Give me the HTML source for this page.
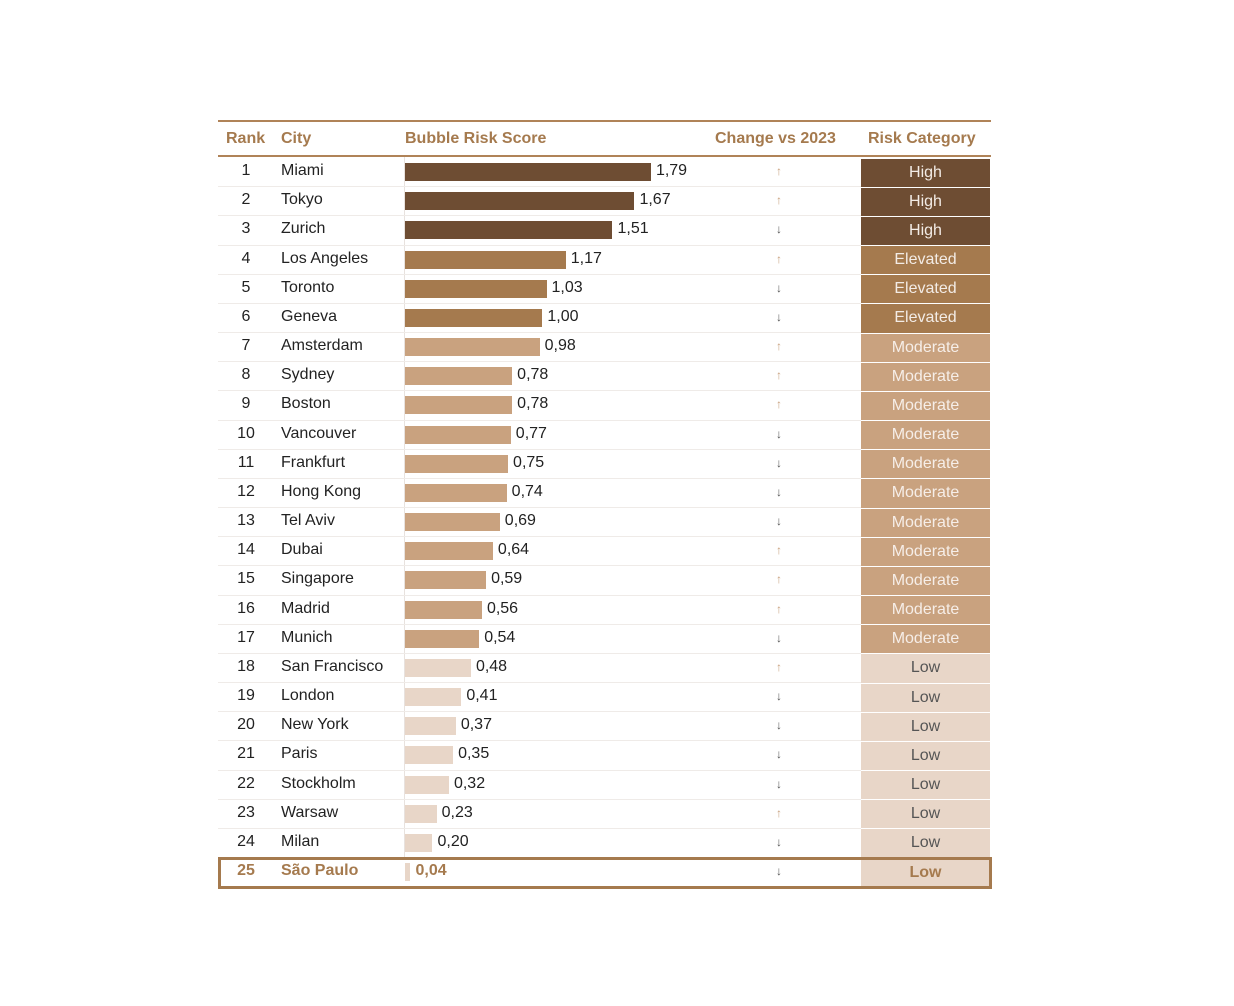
<!DOCTYPE html>
<html><head><meta charset="utf-8"><style>
body{margin:0;background:#fff;width:1234px;height:1006px;position:relative;overflow:hidden;font-family:"Liberation Sans",sans-serif}
#t{position:absolute;left:0;top:0}
.a{position:absolute}
.hd{position:absolute;top:130px;font-weight:bold;font-size:16px;color:#a57a4e}
</style></head><body>
<div id="t"></div>
<script>
const cities=["Miami","Tokyo","Zurich","Los Angeles","Toronto","Geneva","Amsterdam","Sydney","Boston","Vancouver","Frankfurt","Hong Kong","Tel Aviv","Dubai","Singapore","Madrid","Munich","San Francisco","London","New York","Paris","Stockholm","Warsaw","Milan","São Paulo"];
const scores=[1.79,1.67,1.51,1.17,1.03,1.00,0.98,0.78,0.78,0.77,0.75,0.74,0.69,0.64,0.59,0.56,0.54,0.48,0.41,0.37,0.35,0.32,0.23,0.20,0.04];
const changes=["up","up","down","up","down","down","up","up","up","down","down","down","down","up","up","up","down","up","down","down","down","down","up","down","down"];
const categories=["High","High","High","Elevated","Elevated","Elevated","Moderate","Moderate","Moderate","Moderate","Moderate","Moderate","Moderate","Moderate","Moderate","Moderate","Moderate","Low","Low","Low","Low","Low","Low","Low","Low"];
const headers=["Rank","City","Bubble Risk Score","Change vs 2023","Risk Category"];
const catColor={High:"#6e4d33",Elevated:"#a57a4e",Moderate:"#c9a27f",Low:"#e8d6c8"};
const catText={High:"#f3ece6",Elevated:"#f3ece6",Moderate:"#f6eee8",Low:"#555"};
const T=document.getElementById('t');
const x0=405,scale=137.4,rowTop=158,rowH=29.17;
const xS=v=>v*scale;
const yR=i=>rowTop+i*rowH;
function mk(css,txt){const d=document.createElement('div');d.className='a';d.style.cssText=css;if(txt!==undefined)d.textContent=txt;T.appendChild(d);return d;}
let l=mk('left:218px;top:120px;width:773px;height:2px;background:#b08358');


l=mk('left:218px;top:155px;width:773px;height:2px;background:#b08358');


const hx=[226,281,405,715,868];
headers.forEach((h,i)=>{const d=mk('top:130px;left:'+hx[i]+'px;font-weight:bold;font-size:16px;color:#a57a4e;white-space:nowrap',h);

});
l=mk('left:404px;top:157px;width:1px;height:700px;background:#e8e2de');


cities.forEach((c,i)=>{
 const y=yR(i),last=i===cities.length-1,cat=categories[i];
 const tc=last?'#a57a4e':'#222',fw=last?'bold':'normal';
 if(!last){const s=mk('left:218px;top:'+(y+rowH-1)+'px;width:643px;height:1px;background:#efebe8');
 
 }
 let d=mk('left:226px;width:40px;text-align:center;top:'+(y+4)+'px;font-size:16px;color:'+tc+';font-weight:'+fw,String(i+1));
 
 
 d=mk('left:281px;top:'+(y+4)+'px;font-size:16px;color:'+tc+';font-weight:'+fw+';white-space:nowrap',c);
 
 
 const w=xS(scores[i]);
 d=mk('left:'+x0+'px;top:'+(y+5)+'px;width:'+w+'px;height:18px;background:'+catColor[cat]);
 
 
 d=mk('left:'+(x0+w+5)+'px;top:'+(y+4)+'px;font-size:16px;color:'+tc+';font-weight:'+fw,scores[i].toFixed(2).replace('.',','));
 
 
 const up=changes[i]==='up';
 d=mk('left:772px;width:14px;text-align:center;top:'+(y+6)+'px;font-size:12px;color:'+(up?'#c9a27f':'#555'),up?'🡅':'🡇');
 d.textContent=up?'↑':'↓';d.style.fontWeight='bold';
 
 
 d=mk('left:861px;top:'+(y+0.5)+'px;width:129px;height:'+(rowH-1)+'px;background:'+catColor[cat]+';color:'+(last?'#a57a4e':catText[cat])+';font-weight:'+fw+';font-size:16px;text-align:center;line-height:'+(rowH-1)+'px',cat);
 
 
});
l=mk('left:218px;top:'+(yR(24)-1)+'px;width:768px;height:26px;border:3px solid #a57a4e;box-sizing:content-box');


</script>
</body></html>
